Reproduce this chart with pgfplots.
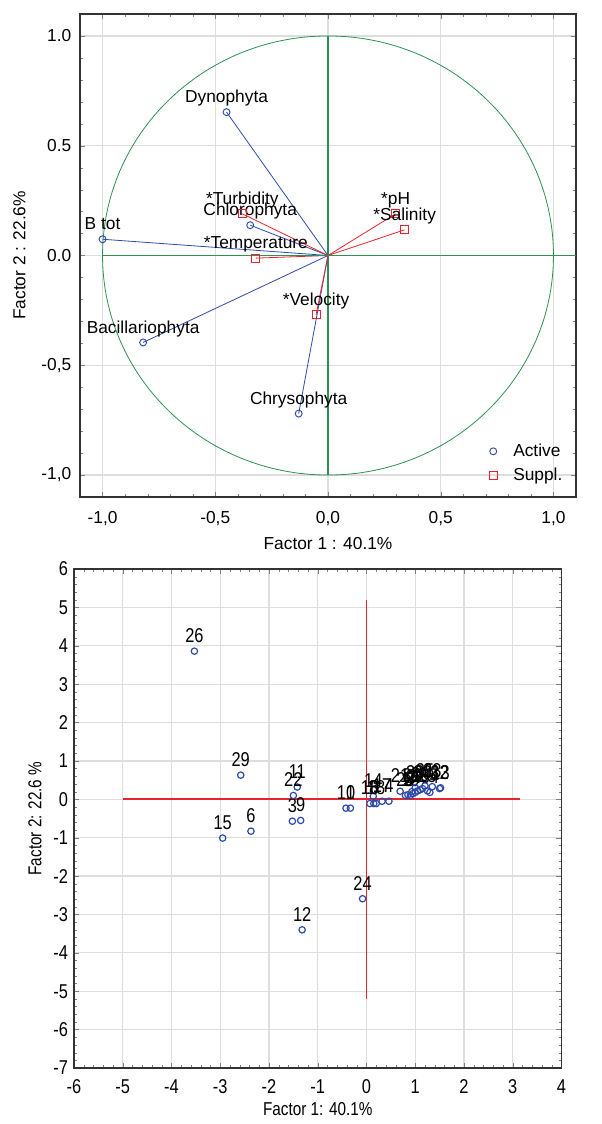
\documentclass[border=0pt]{standalone}
\usepackage{fontspec}
\setmainfont{Liberation Sans}
\newfontfamily\narrowfont[FakeStretch=0.82]{Liberation Sans}
\usepackage{pgfplots}
\pgfplotsset{compat=1.18}
\usepackage{pgfplotstable}

\definecolor{pcablue}{RGB}{45,75,170}
\definecolor{pcared}{RGB}{232,35,45}
\definecolor{pcagreen}{RGB}{45,145,85}
\definecolor{gridgray}{RGB}{222,222,222}

% loadings, panel a
\pgfplotstableread[col sep=comma]{
x,y,label
-1.00,0.074,B tot
-0.45,0.653,Dynophyta
-0.345,0.138,Chlorophyta
-0.82,-0.396,Bacillariophyta
-0.13,-0.72,Chrysophyta
}\activevars

\pgfplotstableread[col sep=comma]{
x,y,label
-0.38,0.19,*Turbidity
-0.32,-0.012,*Temperature
0.30,0.19,*pH
0.34,0.117,*Salinity
-0.053,-0.27,*Velocity
}\supplvars

% scores, panel b
\pgfplotstableread[col sep=comma]{
x,y,label
-0.33,-0.23,1
1.05,0.22,2
-1.52,-0.57,3
0.46,-0.05,4
0.85,0.12,5
-2.37,-0.83,6
0.95,0.15,7
0.15,-0.11,8
-1.35,-0.55,9
-0.42,-0.23,10
-1.42,0.32,11
-1.32,-3.40,12
1.52,0.30,13
0.14,0.08,14
-2.95,-1.01,15
0.07,-0.11,16
0.32,-0.05,17
0.20,-0.11,18
0.90,0.10,19
1.10,0.25,20
0.69,0.21,21
-1.50,0.10,22
1.35,0.33,23
-0.08,-2.59,24
1.25,0.22,25
-3.53,3.86,26
1.00,0.18,27
0.80,0.10,28
-2.58,0.63,29
1.15,0.28,30
0.93,0.20,31
1.50,0.28,32
1.00,0.30,33
1.30,0.18,34
1.20,0.35,35
}\scores

\begin{document}
\fontsize{13}{15}\selectfont
\begin{tikzpicture}
\path[use as bounding box] (0,0) rectangle (450.75pt,-843pt);

\begin{axis}[
    at={(60pt,-10.5pt)}, anchor=north west,
    width=372pt, height=362.25pt, scale only axis,
    xmin=-1.1, xmax=1.1, ymin=-1.1, ymax=1.1,
    xtick={-1,-0.5,0,0.5,1},
    xticklabels={{-1,0},{-0,5},{0,0},{0,5},{1,0}},
    ytick={-1,-0.5,0,0.5,1},
    yticklabels={{-1,0},{-0,5},0.0,0.5,1.0},
    xticklabel style={yshift=-6pt},
    yticklabel style={xshift=-2pt},
    minor tick num=4,
    tick align=inside,
    major tick length=4pt, minor tick length=2pt,
    grid=major,
    major grid style={gridgray, line width=0.9pt},
    axis line style={black!80, line width=0.9pt},
    xlabel={Factor 1 : 40.1\%},
    ylabel={Factor 2 : 22.6\%},
    ylabel style={yshift=3pt},
    legend style={at={(1,0)}, anchor=south east, draw=none, fill=none,
        xshift=-4pt, yshift=6pt, row sep=3pt, nodes={inner xsep=3pt},
        /tikz/every odd column/.append style={column sep=9pt}},
    legend cell align=left,
]
\draw[color=pcagreen, line width=0.6pt] (axis cs:0,0) ellipse [x radius=1, y radius=1];
\draw[color=pcagreen, line width=1.1pt] (axis cs:0,-1) -- (axis cs:0,1);

\addplot[color=pcablue, line width=0.6pt, forget plot, quiver={u=\thisrow{x}, v=\thisrow{y}}]
    table[x expr=0, y expr=0] {\activevars};
\addplot[color=pcared, line width=0.6pt, forget plot, quiver={u=\thisrow{x}, v=\thisrow{y}}]
    table[x expr=0, y expr=0] {\supplvars};

\addplot[only marks, mark=o, color=pcablue, mark size=2.6pt, line width=0.7pt,
    point meta=explicit symbolic, nodes near coords,
    every node near coord/.append style={text=black, anchor=base, yshift=7pt, inner sep=0pt}]
    table[x=x, y=y, meta=label] {\activevars};
\addlegendentry{Active}
\addplot[only marks, mark=square, color=pcared, mark size=3pt, line width=0.8pt,
    point meta=explicit symbolic, nodes near coords,
    every node near coord/.append style={text=black, anchor=base, yshift=7pt, inner sep=0pt}]
    table[x=x, y=y, meta=label] {\supplvars};
\addlegendentry{Suppl.}

\addplot[color=pcagreen, line width=1.4pt, forget plot] coordinates {(-1,0) (1.1,0)};

\node[font=\fontsize{20}{22}\selectfont, anchor=center] at (rel axis cs:1,1) [xshift=11pt, yshift=-10pt] {a};
\end{axis}

\begin{axis}[
    at={(55.5pt,-426.75pt)}, anchor=north west,
    width=365.6pt, height=374.25pt, scale only axis,
    xmin=-6, xmax=4, ymin=-7, ymax=6,
    xtick={-6,-5,-4,-3,-2,-1,0,1,2,3,4},
    xticklabels={-6,-5,-4,-3,-2,-1,0,1,2,3,4},
    ytick={-7,-6,-5,-4,-3,-2,-1,0,1,2,3,4,5,6},
    yticklabels={-7,-6,-5,-4,-3,-2,-1,0,1,2,3,4,5,6},
    minor tick num=4,
    tick align=inside,
    major tick length=4pt, minor tick length=2pt,
    grid=major,
    major grid style={gridgray, line width=0.9pt},
    axis line style={black!80, line width=0.9pt},
    tick label style={font=\narrowfont\fontsize{15}{17}\selectfont},
    xticklabel style={yshift=-4pt},
    label style={font=\narrowfont\fontsize{14}{16}\selectfont},
    xlabel={Factor 1: 40.1\%},
    ylabel={Factor 2: 22.6 \%},
    xlabel style={yshift=2pt},
]
\draw[color=pcared, line width=1.2pt] (axis cs:0,-5.2) -- (axis cs:0,5.2);

\addplot[only marks, mark=o, color=pcablue, mark size=2.4pt, line width=0.9pt,
    point meta=explicit symbolic, nodes near coords,
    every node near coord/.append style={text=black, font=\narrowfont\fontsize{15}{17}\selectfont,
        anchor=base, yshift=6.5pt, inner sep=0pt}]
    table[x=x, y=y, meta=label] {\scores};

\addplot[color=pcared, line width=1.4pt, forget plot] coordinates {(-5,0) (3.15,0)};

\node[font=\fontsize{20}{22}\selectfont, anchor=center] at (rel axis cs:1,1) [xshift=12pt, yshift=-12pt] {b};
\end{axis}
\end{tikzpicture}
\end{document}
